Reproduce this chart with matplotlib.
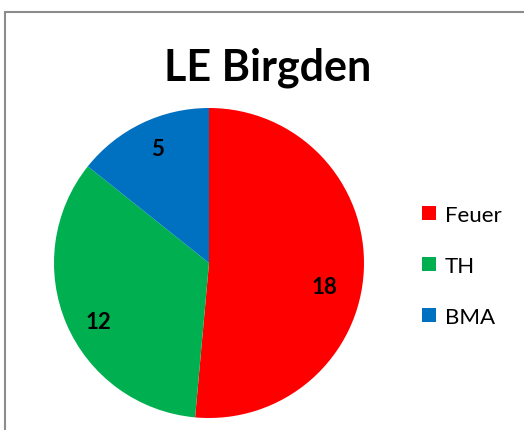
import numpy as np
import matplotlib.pyplot as plt
from matplotlib.patches import Patch, Rectangle

plt.rcParams["font.family"] = ["Lato", "DejaVu Sans"]

# data
categories = ["Feuer", "TH", "BMA"]
values = [18, 12, 5]
colors = ["#FF0000", "#00B050", "#0070C0"]

# label placement (distance from centre, angle in degrees), like Excel's best fit
label_pos = [(0.76, -11.7), (0.81, 208.0), (0.81, 114.0)]

fig = plt.figure(figsize=(5.24, 4.31), dpi=100)

# chart border (only left and top visible in the crop)
fig.patches.append(Rectangle((5 / 524, -0.1), 1.2, (431 - 13) / 431 + 0.1,
                             transform=fig.transFigure, fill=False,
                             edgecolor="#8c8c8c", linewidth=1.5))

ax = fig.add_axes([54 / 524, 12 / 431, 310 / 524, 310 / 431])
wedges, _ = ax.pie(values, colors=colors, startangle=90, counterclock=False,
                   radius=1.0, wedgeprops=dict(linewidth=0))
ax.set_xlim(-1, 1)
ax.set_ylim(-1, 1)
ax.set_aspect("equal")
ax.axis("off")

for v, (d, a) in zip(values, label_pos):
    t = np.deg2rad(a)
    ax.text(d * np.cos(t), d * np.sin(t), str(v), ha="center", va="center",
            fontsize=16, fontweight="bold", color="black")

fig.text(268 / 524, (431 - 80) / 431, "LE Birgden", ha="center", va="baseline",
         fontsize=31, fontweight="bold")

handles = [Patch(facecolor=c, edgecolor="none") for c in colors]
fig.legend(handles, categories, loc="center left",
           bbox_to_anchor=(422 / 524, (431 - 267) / 431), frameon=False,
           fontsize=16, handlelength=0.62, handleheight=0.62, handletextpad=0.4,
           labelspacing=1.4, borderaxespad=0, borderpad=0)

fig.savefig("out.png", dpi=100)
